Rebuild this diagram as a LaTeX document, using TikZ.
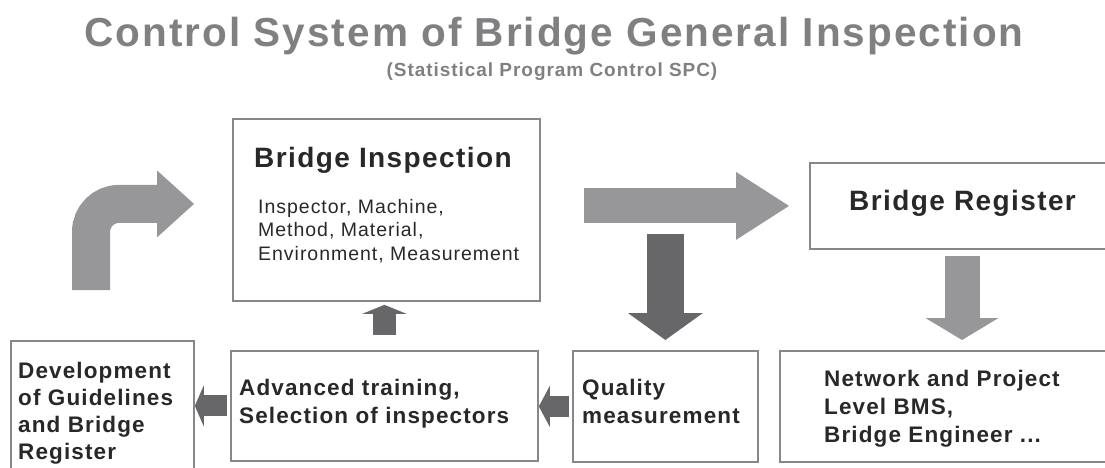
\documentclass[tikz,border=0pt]{standalone}
\usepackage{fontspec}
\setmainfont{Liberation Sans}[LetterSpace=5]
\usepackage{tikz}
\usetikzlibrary{arrows.meta}
\definecolor{headgray}{RGB}{128,128,131}
\definecolor{framegray}{RGB}{135,135,135}
\definecolor{inkgray}{RGB}{40,40,40}
\definecolor{palearrow}{RGB}{151,151,154}
\definecolor{deeparrow}{RGB}{103,103,106}

\begin{document}
\begin{tikzpicture}[x=1pt,y=-1pt]
						\tikzstyle{every node}+=[inner sep=0pt]
						\tikzstyle{frame}=[draw=framegray, line width=1.8pt, anchor=north west]
						\tikzstyle{lbl}=[anchor=base west, align=left, text=inkgray]
						\tikzstyle{bigfont}=[font=\bfseries\fontsize{28}{34}\selectfont]
						\tikzstyle{midfont}=[font=\bfseries\fontsize{22.5}{28}\selectfont]
						\tikzstyle{smallfont}=[font=\fontsize{19.5}{23.5}\selectfont]
						\tikzstyle{palestroke}=[draw=palearrow]
						\tikzstyle{deepstroke}=[draw=deeparrow]
						\useasboundingbox (0,0) rectangle (1105,468);
						\clip (0,0) rectangle (1105,468);
						% heading
						\node [anchor=base, text=headgray, font=\bfseries\fontsize{40.5}{48}\selectfont] (title) at (554,47) {Control System of Bridge General Inspection};
						\node [anchor=base, text=headgray, font=\bfseries\fontsize{19}{22}\selectfont] (subtitle) at (552,77) {(Statistical Program Control SPC)};
						% boxes
						\node [frame, minimum width=307pt, minimum height=182pt] (insp) at (232,118) {};
						\node [frame, minimum width=321pt, minimum height=86pt] (reg) at (809,162) {};
						\node [frame, minimum width=183pt, minimum height=150pt] (dev) at (10,340) {};
						\node [frame, minimum width=307pt, minimum height=110pt] (adv) at (230,350) {};
						\node [frame, minimum width=185pt, minimum height=111pt] (qual) at (572,350) {};
						\node [frame, minimum width=351pt, minimum height=111pt] (net) at (779,350) {};
						% texts (multi-line: placed by last baseline)
						\node [lbl, bigfont] (insptitle) at (254,167) {Bridge Inspection};
						\node [lbl, smallfont] (insptext) at (258,260) {Inspector, Machine,\\Method, Material,\\Environment, Measurement};
						\node [lbl, bigfont] (regtitle) at (849,210) {Bridge Register};
						\node [lbl, midfont, font=\bfseries\fontsize{22.5}{27}\selectfont] (devtext) at (18,459) {Development\\of Guidelines\\and Bridge\\Register};
						\node [lbl, midfont] (advtext) at (239,423) {Advanced training,\\Selection of inspectors};
						\node [lbl, midfont] (qualtext) at (582,423) {Quality\\measurement};
						\node [lbl, midfont] (nettext) at (824,442) {Network and Project\\Level BMS,\\Bridge Engineer ...};
						% block arrows
						\coordinate (loopfoot) at (91,290);
						\draw [palestroke, line width=38pt, rounded corners=28pt, -{Triangle[length=37pt,width=67pt,line width=0pt]}, shorten >=38pt] (loopfoot) |- ([yshift=6pt]insp.west);
						\draw [palestroke, line width=35pt, -{Triangle[length=53pt,width=68pt,line width=0pt]}, shorten <=43pt, shorten >=20pt] (insp.east |- reg.west) -- (reg.west);
						\coordinate (fork) at (qual.north |- reg.west);
						\draw [deepstroke, line width=37pt, -{Triangle[length=27pt,width=75pt,line width=0pt]}, shorten <=28pt, shorten >=10pt] (fork) -- (qual.north);
						\coordinate (regfoot) at ([xshift=153pt]reg.south west);
						\draw [palestroke, line width=35pt, -{Triangle[length=22pt,width=73pt,line width=0pt]}, shorten <=6pt, shorten >=10pt] (regfoot) -- (regfoot |- net.north);
						\draw [deepstroke, line width=23pt, -{Triangle[length=9pt,width=44pt,line width=0pt]}, shorten <=15pt, shorten >=3pt] (adv.north) -- (adv.north |- insp.south);
						\draw [deepstroke, line width=21pt, -{Triangle[length=11pt,width=41pt,line width=0pt]}, shorten <=3pt] (qual.west) -- (qual.west -| adv.east);
						\draw [deepstroke, line width=21pt, -{Triangle[length=9pt,width=41pt,line width=0pt]}, shorten <=3pt] (adv.west) -- (adv.west -| dev.east);
					\end{tikzpicture}
\end{document}
